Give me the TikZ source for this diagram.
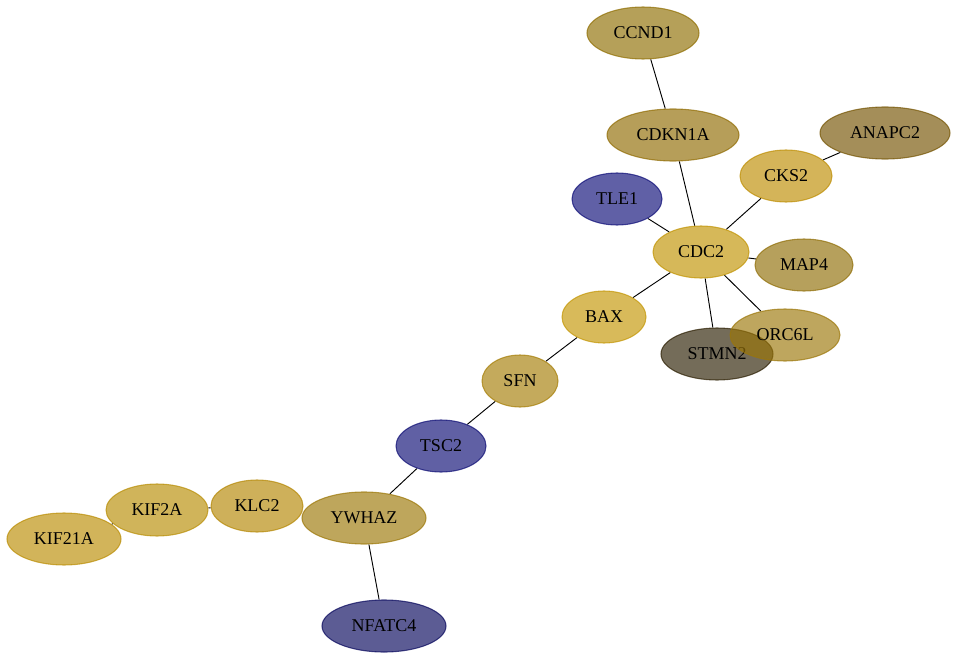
\documentclass[tikz,border=0pt]{standalone}
\usepackage{fontspec}
\setmainfont{Liberation Serif}
\usetikzlibrary{shapes.geometric,backgrounds}
\definecolor{cCCND1}{RGB}{142,109,0}
\definecolor{cCDKN1A}{RGB}{143,106,0}
\definecolor{cANAPC2}{RGB}{115,82,0}
\definecolor{cCKS2}{RGB}{189,140,0}
\definecolor{cTLE1}{RGB}{11,11,118}
\definecolor{cCDC2}{RGB}{192,146,0}
\definecolor{cMAP4}{RGB}{143,109,5}
\definecolor{cBAX}{RGB}{195,149,2}
\definecolor{cORC6L}{RGB}{155,118,8}
\definecolor{cSTMN2}{RGB}{42,29,0}
\definecolor{cSFN}{RGB}{165,125,5}
\definecolor{cTSC2}{RGB}{11,11,115}
\definecolor{cYWHAZ}{RGB}{155,118,5}
\definecolor{cKLC2}{RGB}{180,134,2}
\definecolor{cKIF2A}{RGB}{183,140,2}
\definecolor{cKIF21A}{RGB}{186,140,2}
\definecolor{cNFATC4}{RGB}{5,5,91}
\tikzset{
  gene/.style args={#1/#2}{ellipse, inner sep=0pt, minimum height=39pt,
    minimum width=#2*1.5pt, fill=#1, fill opacity=0.65, draw=#1, draw opacity=0.7,
    line width=0.8pt, text opacity=1, font=\fontsize{13.5pt}{15pt}\selectfont},
  link/.style={draw=black, line width=0.7pt}
}
\begin{document}
\begin{tikzpicture}[x=0.75pt,y=-0.75pt]
\useasboundingbox (0,0) rectangle (957,660);
\node[gene=cCCND1/56] (CCND1) at (643,33) {CCND1};
\node[gene=cCDKN1A/66] (CDKN1A) at (673,135) {CDKN1A};
\node[gene=cANAPC2/65] (ANAPC2) at (885,133) {ANAPC2};
\node[gene=cCKS2/46] (CKS2) at (786,176) {CKS2};
\node[gene=cTLE1/45] (TLE1) at (617,199) {TLE1};
\node[gene=cCDC2/48] (CDC2) at (701,252) {CDC2};
\node[gene=cMAP4/49] (MAP4) at (804,265) {MAP4};
\node[gene=cBAX/42] (BAX) at (604,317) {BAX};
\node[gene=cSTMN2/56] (STMN2) at (717,354) {STMN2};
\node[gene=cORC6L/55] (ORC6L) at (785,335) {ORC6L};
\node[gene=cSFN/38] (SFN) at (520,381) {SFN};
\node[gene=cTSC2/45] (TSC2) at (441,446) {TSC2};
\node[gene=cYWHAZ/62] (YWHAZ) at (364,518) {YWHAZ};
\node[gene=cKLC2/46] (KLC2) at (257,506) {KLC2};
\node[gene=cKIF2A/51] (KIF2A) at (157,510) {KIF2A};
\node[gene=cKIF21A/57] (KIF21A) at (64,539) {KIF21A};
\node[gene=cNFATC4/62] (NFATC4) at (384,626) {NFATC4};
\begin{scope}[on background layer]
\draw[link] (CCND1) -- (CDKN1A);
\draw[link] (CDKN1A) -- (CDC2);
\draw[link] (ANAPC2) -- (CKS2);
\draw[link] (CKS2) -- (CDC2);
\draw[link] (TLE1) -- (CDC2);
\draw[link] (CDC2) -- (MAP4);
\draw[link] (CDC2) -- (ORC6L);
\draw[link] (CDC2) -- (STMN2);
\draw[link] (CDC2) -- (BAX);
\draw[link] (BAX) -- (SFN);
\draw[link] (SFN) -- (TSC2);
\draw[link] (TSC2) -- (YWHAZ);
\draw[link] (KLC2) -- (KIF2A);
\draw[link] (KIF2A) -- (KIF21A);
\draw[link] (YWHAZ) -- (NFATC4);
\end{scope}
\end{tikzpicture}
\end{document}
